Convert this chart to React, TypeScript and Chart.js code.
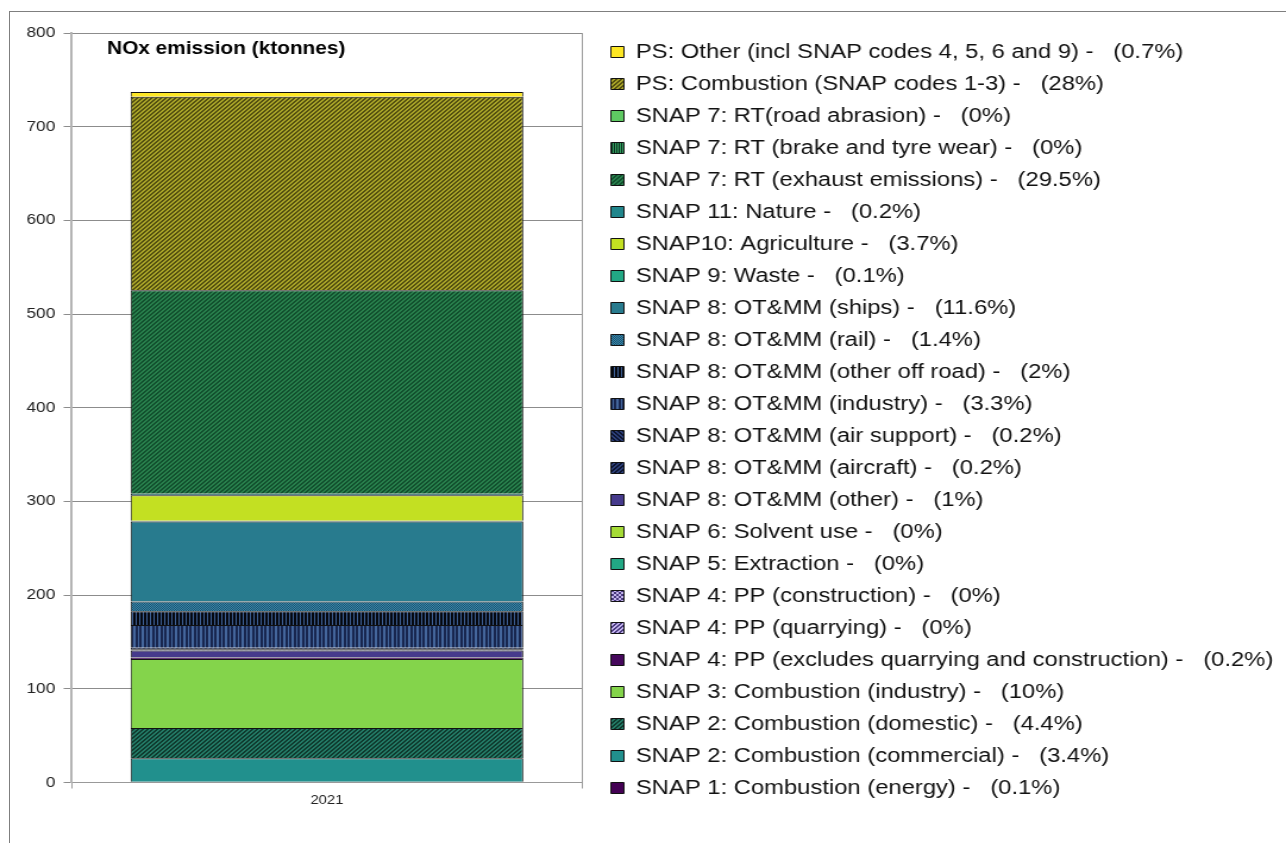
import { useEffect, useRef } from 'react';
import { Chart, registerables } from 'chart.js';

Chart.register(...registerables);

// ---------- data ----------
const categories = ['2021'];

const seriesNames = [
  'SNAP 1: Combustion (energy)',
  'SNAP 2: Combustion (commercial)',
  'SNAP 2: Combustion (domestic)',
  'SNAP 3: Combustion (industry)',
  'SNAP 4: PP (excludes quarrying and construction)',
  'SNAP 4: PP (quarrying)',
  'SNAP 4: PP (construction)',
  'SNAP 5: Extraction',
  'SNAP 6: Solvent use',
  'SNAP 8: OT&MM (other)',
  'SNAP 8: OT&MM (aircraft)',
  'SNAP 8: OT&MM (air support)',
  'SNAP 8: OT&MM (industry)',
  'SNAP 8: OT&MM (other off road)',
  'SNAP 8: OT&MM (rail)',
  'SNAP 8: OT&MM (ships)',
  'SNAP 9: Waste',
  'SNAP10: Agriculture',
  'SNAP 11: Nature',
  'SNAP 7: RT (exhaust emissions)',
  'SNAP 7: RT (brake and tyre wear)',
  'SNAP 7: RT(road abrasion)',
  'PS: Combustion (SNAP codes 1-3)',
  'PS: Other (incl SNAP codes 4, 5, 6 and 9)',
];

const seriesShares = [
  '0.1%', '3.4%', '4.4%', '10%', '0.2%', '0%', '0%', '0%', '0%', '1%', '0.2%', '0.2%',
  '3.3%', '2%', '1.4%', '11.6%', '0.1%', '3.7%', '0.2%', '29.5%', '0%', '0%', '28%', '0.7%',
];

// ktonnes, 2021
const seriesValues = [
  0.7, 25.1, 32.4, 73.7, 1.5, 0, 0, 0, 0, 7.4, 1.5, 1.5,
  24.3, 14.7, 10.3, 85.5, 0.7, 27.3, 1.5, 217.4, 0, 0, 206.4, 5.2,
];

const yMin = 0;
const yMax = 800;
const yStep = 100;
const chartTitle = 'NOx emission (ktonnes)';

// ---------- styles ----------
type Kind = 'diag' | 'diagB' | 'vert' | 'vertThin' | 'vertMix' | 'dots' | 'check';
type FillSpec = { base: string; fg?: string; kind?: Kind };

const fillSpecs: FillSpec[] = [
  { base: '#440154' },
  { base: '#21908d' },
  { base: '#237a66', fg: '#0f3a2e', kind: 'diag' },
  { base: '#84d44b' },
  { base: '#46085c' },
  { base: '#c4b5ee', fg: '#4a3a80', kind: 'diag' },
  { base: '#c4b5ee', fg: '#4a3a80', kind: 'check' },
  { base: '#22a884' },
  { base: '#a5db36' },
  { base: '#463a8c' },
  { base: '#2c3f78', fg: '#0c1430', kind: 'diag' },
  { base: '#2c3f78', fg: '#0c1430', kind: 'diagB' },
  { base: '#18264f', fg: '#44669c', kind: 'vertMix' },
  { base: '#05080f', fg: '#3d5f94', kind: 'vertThin' },
  { base: '#3a8aaa', fg: '#1a5070', kind: 'dots' },
  { base: '#287b8e' },
  { base: '#22a884' },
  { base: '#c3e022' },
  { base: '#21868c' },
  { base: '#287f4c', fg: '#12502e', kind: 'diag' },
  { base: '#35a060', fg: '#0a3020', kind: 'vert' },
  { base: '#5ec962' },
  { base: '#a8a428', fg: '#545010', kind: 'diag' },
  { base: '#fde725' },
];

const FONT = "'Liberation Sans', Arial, Helvetica, sans-serif";
const CANVAS_W = 1081;
const CANVAS_H = 843;
const STRETCH = 1286 / CANVAS_W;

function makeFill(spec: FillSpec): string | CanvasPattern {
  if (!spec.kind) return spec.base;
  const size = spec.kind === 'vertMix' ? 7 : spec.kind === 'vertThin' ? 3 : 4;
  const c = document.createElement('canvas');
  c.width = size;
  c.height = size;
  const g = c.getContext('2d')!;
  g.fillStyle = spec.base;
  g.fillRect(0, 0, size, size);
  g.fillStyle = spec.fg || '#000';
  for (let x = 0; x < size; x++) {
    for (let y = 0; y < size; y++) {
      let on = false;
      switch (spec.kind) {
        case 'diag': on = (x + y) % 4 < 2; break;
        case 'diagB': on = (((x - y) % 4) + 4) % 4 < 2; break;
        case 'vert': on = x % 2 === 0; break;
        case 'vertThin': on = x === 0; break;
        case 'vertMix': on = x === 0 || x === 1 || x === 4; break;
        case 'dots': on = (x + y) % 2 === 0; break;
        case 'check': on = ((x >> 1) + (y >> 1)) % 2 === 0; break;
      }
      if (on) g.fillRect(x, y, 1, 1);
    }
  }
  return g.createPattern(c, 'repeat')!;
}

const titlePlugin = {
  id: 'innerTitle',
  afterDraw(chart: any) {
    const { ctx } = chart;
    ctx.save();
    ctx.font = `bold 17.5px ${FONT}`;
    ctx.fillStyle = '#000';
    ctx.textBaseline = 'alphabetic';
    ctx.textAlign = 'left';
    ctx.fillText(chartTitle, 90, 54);
    ctx.restore();
  },
};

export default function App() {
  const ref = useRef<HTMLCanvasElement | null>(null);

  useEffect(() => {
    const canvas = ref.current;
    if (!canvas) return;
    const chart = new Chart(canvas, {
      type: 'bar',
      data: {
        labels: categories,
        datasets: seriesNames.map((name, i) => ({
          label: `${name} -   (${seriesShares[i]})`,
          data: [seriesValues[i]],
          backgroundColor: makeFill(fillSpecs[i]) as any,
          borderColor: '#111111',
          borderWidth: 1,
          barPercentage: 0.77,
          categoryPercentage: 1,
          xAxisID: 'x',
          yAxisID: 'y',
        })),
      },
      options: {
        responsive: false,
        animation: false,
        devicePixelRatio: 1,
        events: [],
        layout: { padding: { left: 15.3, right: 0.7, top: 29.5, bottom: 32.5 } },
        plugins: {
          legend: {
            position: 'right',
            reverse: true,
            align: 'center',
            maxWidth: 640,
            labels: {
              boxWidth: 11,
              boxHeight: 11,
              padding: 12,
              color: '#111',
              font: { family: FONT, size: 20 },
            },
          },
          tooltip: { enabled: false },
          title: { display: false },
        },
        scales: {
          x: {
            stacked: true,
            grid: { offset: true, color: '#999', tickLength: 6, drawOnChartArea: true },
            border: { color: '#999' },
            ticks: { color: '#222', font: { family: FONT, size: 12.5 }, padding: 5 },
            afterFit: (s: any) => { s.height = 28; },
          },
          y: {
            stacked: true,
            min: yMin,
            max: yMax,
            ticks: { stepSize: yStep, color: '#222', font: { family: FONT, size: 14.5 }, padding: 7 },
            grid: { color: '#8c8c8c', tickLength: 7 },
            border: { color: '#b4b4b4', width: 2 },
          },
          gap: {
            type: 'linear',
            position: 'right',
            display: true,
            grid: { display: false },
            border: { display: false },
            ticks: { display: false },
            afterFit: (s: any) => { s.width = 12.4; },
          },
          topGap: {
            type: 'linear',
            position: 'top',
            display: true,
            grid: { display: false },
            border: { display: false },
            ticks: { display: false },
            afterFit: (s: any) => { s.height = 3.5; },
          },
        } as any,
      },
      plugins: [titlePlugin],
    });
    return () => chart.destroy();
  }, []);

  return (
    <div style={{ position: 'absolute', left: 0, top: 0, width: 1286, height: 843, overflow: 'hidden', background: '#fff' }}>
      <div
        style={{
          position: 'absolute', left: 0, top: 0, width: CANVAS_W, height: CANVAS_H,
          transform: `scaleX(${STRETCH})`, transformOrigin: '0 0',
        }}
      >
        <canvas ref={ref} width={CANVAS_W} height={CANVAS_H} />
      </div>
      <div
        style={{
          position: 'absolute', left: 9, top: 11, right: 0, bottom: 0,
          borderLeft: '1px solid #7f7f7f', borderTop: '1px solid #7f7f7f', pointerEvents: 'none',
        }}
      />
    </div>
  );
}
